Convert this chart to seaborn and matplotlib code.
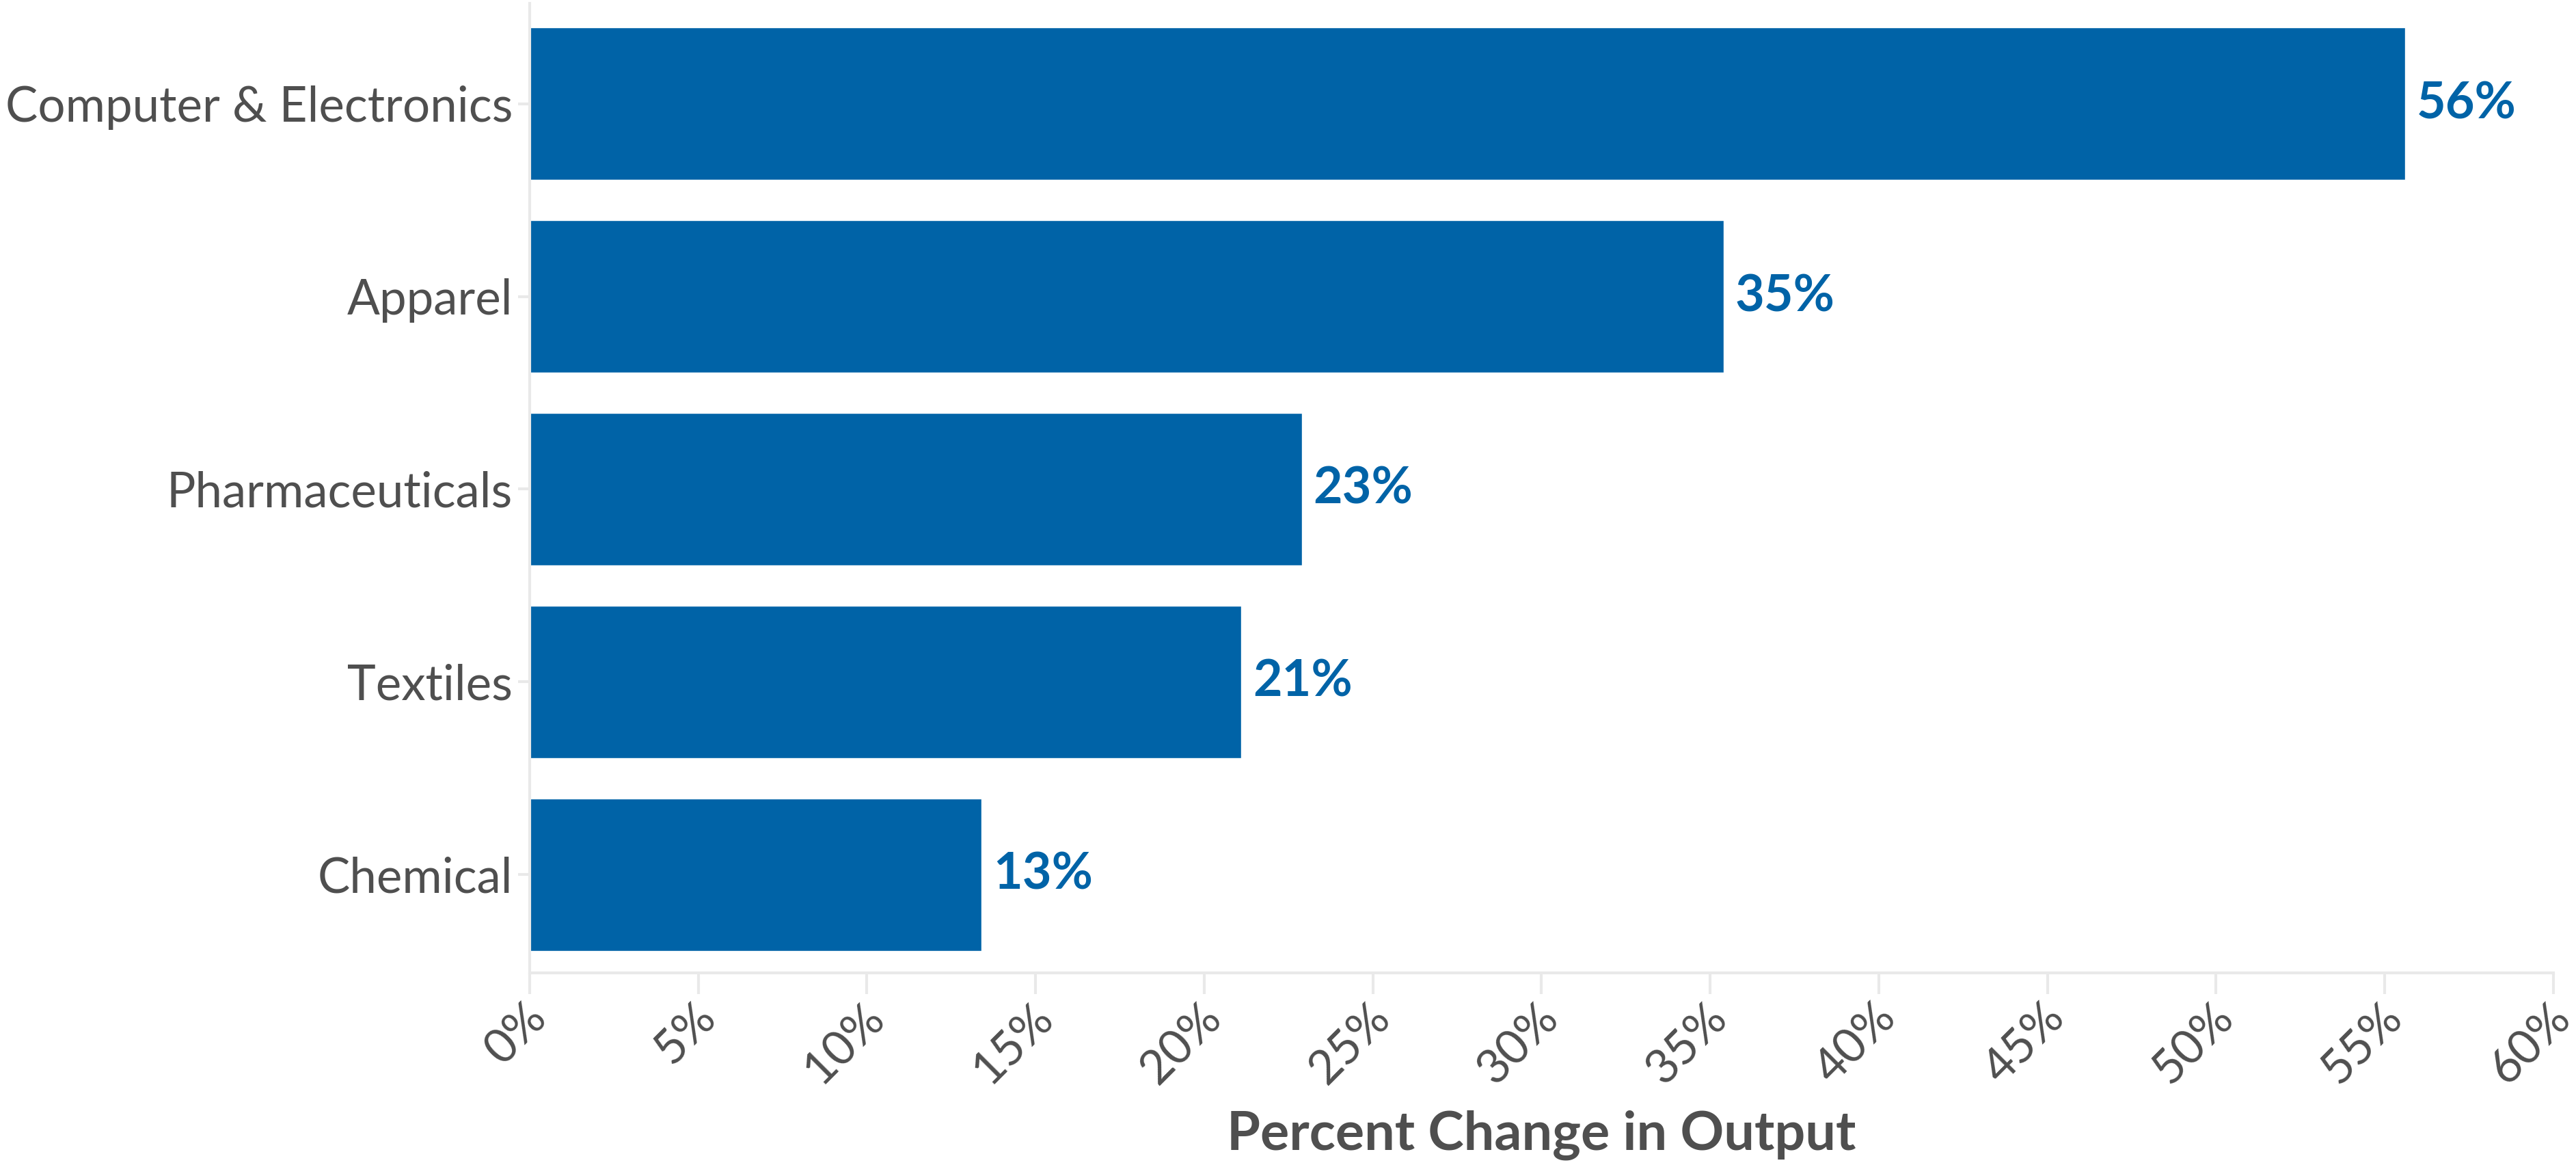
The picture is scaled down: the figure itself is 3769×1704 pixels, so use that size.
import matplotlib
matplotlib.use("Agg")
import matplotlib.pyplot as plt
import matplotlib.ticker as mticker
import matplotlib.transforms as mtransforms
import pandas as pd
import seaborn as sns

# Sectors and their percent change in output
sectors = ["Computer & Electronics", "Apparel", "Pharmaceuticals", "Textiles", "Chemical"]
pct_change = [55.6, 35.4, 22.9, 21.1, 13.4]
x_ticks = [0, 5, 10, 15, 20, 25, 30, 35, 40, 45, 50, 55, 60]

df = pd.DataFrame({"sector": sectors, "change": pct_change})

BAR_BLUE = "#0063a7"
TEXT_GRAY = "#4f4f4f"
LINE_GRAY = "#e9e9e9"

sns.set_theme(style="white")
plt.rcParams["font.family"] = ["Lato", "DejaVu Sans"]

fig = plt.figure(figsize=(37.69, 17.04), dpi=100)
ax = fig.add_axes([0.2056, 0.1649, 0.9912 - 0.2056, 0.997 - 0.1649])

# horizontal guide lines behind the bars
ax.set_axisbelow(True)
ax.grid(axis="y", color=LINE_GRAY, linewidth=3)
ax.grid(axis="x", visible=False)

sns.barplot(data=df, x="change", y="sector", orient="h", color=BAR_BLUE,
            saturation=1, width=0.79, ax=ax)

for patch, v in zip(ax.patches, pct_change):
    y = patch.get_y() + patch.get_height() / 2
    ax.annotate(f"{v:.0f}%", (patch.get_width(), y), xytext=(12, 0),
                textcoords="offset points", ha="left", va="center",
                fontsize=53, fontweight="bold", color=BAR_BLUE)

ax.set_xlim(0, 60)
ax.set_ylim(4.51, -0.52)
ax.set_xticks(x_ticks)
ax.xaxis.set_major_formatter(mticker.FuncFormatter(lambda v, _: f"{v:.0f}%"))

ax.tick_params(axis="x", length=22, width=3, color=LINE_GRAY, labelsize=50,
               labelcolor=TEXT_GRAY, pad=2, bottom=True)
ax.tick_params(axis="y", length=12, width=3, color=LINE_GRAY, labelsize=51,
               labelcolor=TEXT_GRAY, pad=6, left=True)
plt.setp(ax.get_xticklabels(), rotation=45, ha="right", va="center",
         rotation_mode="anchor")
shift = mtransforms.ScaledTranslation(0.15, -0.22, fig.dpi_scale_trans)
for lbl in ax.get_xticklabels():
    lbl.set_transform(lbl.get_transform() + shift)

for side in ["top", "right"]:
    ax.spines[side].set_visible(False)
for side in ["left", "bottom"]:
    ax.spines[side].set_color(LINE_GRAY)
    ax.spines[side].set_linewidth(3)

ax.set_ylabel("")
ax.set_xlabel("Percent Change in Output", fontsize=57, fontweight="bold",
              color=TEXT_GRAY)
ax.xaxis.set_label_coords(0.5, -0.167)
ax.xaxis.label.set_va("center")

fig.savefig("out.png", dpi=100, facecolor="white")
